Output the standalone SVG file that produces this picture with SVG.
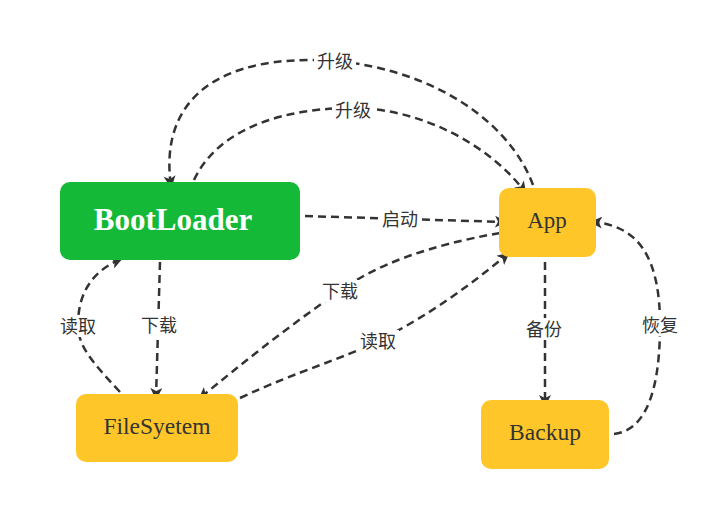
<svg xmlns="http://www.w3.org/2000/svg" width="723" height="519" viewBox="0 0 723 519">
<style>
.e{fill:none;stroke:#333;stroke-width:2.5;stroke-dasharray:8 5;}
.lb{fill:#fff;}
.lt{font-family:"Noto Sans CJK SC","Noto Sans",sans-serif;font-size:18px;fill:#333;text-anchor:middle;dominant-baseline:central;}
.nt{font-family:"Liberation Serif",serif;text-anchor:middle;dominant-baseline:central;}
.y{fill:#ffc629;}
</style>
<defs>
<marker id="a" viewBox="0 0 12 12" refX="10" refY="6" markerWidth="12" markerHeight="12" markerUnits="userSpaceOnUse" orient="auto">
<path d="M0,0 L12,6 L0,12 L3,6 Z" fill="#333"/>
</marker>
</defs>
<rect width="723" height="519" fill="#fff"/>
<g id="edges">
<path class="e" d="M533,185 C 505,110 410,60 310,60 C 205,60 160,110 171,186" marker-end="url(#a)"/>
<path class="e" d="M194,180 C 220,125 290,108 353,108 C 420,108 490,145 525,192" marker-end="url(#a)"/>
<path class="e" d="M305,216 L505,222" marker-end="url(#a)"/>
<path class="e" d="M500,233 C 430,245 375,265 340,291 C 290,325 240,365 200,398" marker-end="url(#a)"/>
<path class="e" d="M240,398 C 300,370 340,360 378,341 C 430,315 470,285 508,254" marker-end="url(#a)"/>
<path class="e" d="M160,262 L156,398" marker-end="url(#a)"/>
<path class="e" d="M120,392 C 90,360 78,345 78,325 C 78,290 95,270 121,259" marker-end="url(#a)"/>
<path class="e" d="M545,262 L545,405" marker-end="url(#a)"/>
<path class="e" d="M614,434 C 650,430 660,380 660,325 C 660,260 640,225 592,222" marker-end="url(#a)"/>
<rect class="lb" x="314" y="50" width="42" height="22"/><text class="lt" x="335" y="60">升级</text>
<rect class="lb" x="332" y="99" width="42" height="22"/><text class="lt" x="353" y="109">升级</text>
<rect class="lb" x="379" y="208" width="42" height="22"/><text class="lt" x="400" y="218">启动</text>
<rect class="lb" x="319" y="280" width="42" height="22"/><text class="lt" x="340" y="290">下载</text>
<rect class="lb" x="357" y="330" width="42" height="22"/><text class="lt" x="378" y="340">读取</text>
<rect class="lb" x="138" y="314" width="42" height="22"/><text class="lt" x="159" y="324">下载</text>
<rect class="lb" x="57" y="315" width="42" height="22"/><text class="lt" x="78" y="325">读取</text>
<rect class="lb" x="523" y="318" width="42" height="22"/><text class="lt" x="544" y="328">备份</text>
<rect class="lb" x="639" y="314" width="42" height="22"/><text class="lt" x="660" y="324">恢复</text>
</g>
<g id="bootloader">
<rect x="60" y="182" width="240" height="78" rx="10" fill="#13b937"/>
<text class="nt" x="173" y="219" font-size="31" font-weight="bold" fill="#fff">BootLoader</text>
</g>
<g id="app">
<rect class="y" x="499" y="188" width="97" height="69" rx="10"/>
<text class="nt" x="547" y="220" font-size="23" fill="#333">App</text>
</g>
<g id="filesyetem">
<rect class="y" x="76" y="394" width="162" height="68" rx="10"/>
<text class="nt" x="157" y="426" font-size="23.5" fill="#333">FileSyetem</text>
</g>
<g id="backup">
<rect class="y" x="481" y="400" width="128" height="69" rx="10"/>
<text class="nt" x="545" y="432" font-size="23.5" fill="#333">Backup</text>
</g>
</svg>
